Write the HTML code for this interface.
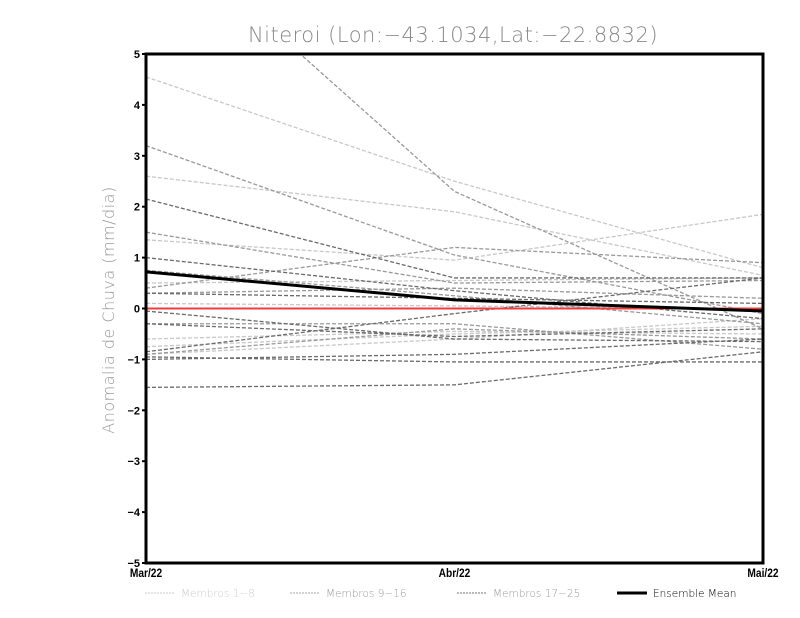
<!DOCTYPE html>
<html><head><meta charset="utf-8"><style>
body{margin:0;background:#fff;width:800px;height:618px;overflow:hidden}
svg{display:block}
</style></head><body>
<svg id="chart" width="800" height="618" xmlns="http://www.w3.org/2000/svg">
<text x="453" y="42" text-anchor="middle" font-family="DejaVu Sans, sans-serif" font-weight="200" font-size="21" letter-spacing="0.5" fill="#888">Niteroi (Lon:−43.1034,Lat:−22.8832)</text>
<text transform="translate(114,310) rotate(-90)" text-anchor="middle" font-family="DejaVu Sans, sans-serif" font-weight="200" font-size="16" letter-spacing="0.5" fill="#999">Anomalia de Chuva (mm/dia)</text>
<g id="plot"></g>
<g id="axes"></g>
<g id="legend"></g>
</svg>
<script>
const categories=["Mar/22","Abr/22","Mai/22"];
const yTicks=[5,4,3,2,1,0,-1,-2,-3,-4,-5];
const membersLight=[[4.55,2.5,0.8],[2.6,1.9,0.65],[1.35,0.95,1.85],[0.5,0.55,0.6],[-0.75,-0.5,-0.35],[-0.9,-0.6,-0.2],[0.1,0.05,0.0],[-0.6,-0.45,-0.5]];
const membersMid=[[7.7,2.3,-0.4],[3.2,1.05,-0.1],[1.5,0.5,0.55],[0.75,0.25,-0.3],[0.4,1.2,0.9],[-0.3,-0.3,-0.8],[-0.9,-0.4,-0.6],[0.3,0.4,0.2]];
const membersDark=[[2.15,0.6,0.6],[-0.05,-0.6,-0.65],[-0.95,-1.05,-1.05],[-1.55,-1.5,-0.85],[0.3,0.2,0.1],[-0.3,-0.55,-0.4],[-0.85,-0.1,0.6],[1.0,0.35,-0.2],[-1.0,-0.9,-0.6]];
const ensembleMean=[0.72,0.17,-0.05];
const legendLabels=["Membros 1-8","Membros 9-16","Membros 17-25","Ensemble Mean"];

const NS="http://www.w3.org/2000/svg";
const X0=146,X1=763,Y0=54,Y1=563;
const xS=i=>X0+(X1-X0)*i/(categories.length-1);
const yS=v=>Y0+(5-v)*(Y1-Y0)/10;
function mk(t,a,p){const e=document.createElementNS(NS,t);for(const k in a)e.setAttribute(k,a[k]);p.appendChild(e);return e;}
const plot=document.getElementById('plot'),axes=document.getElementById('axes'),leg=document.getElementById('legend');
const cp=mk('clipPath',{id:'cp'},plot);mk('rect',{x:X0,y:Y0,width:X1-X0,height:Y1-Y0},cp);
const g=mk('g',{'clip-path':'url(#cp)'},plot);
function pts(a){return a.map((v,i)=>xS(i)+','+yS(v)).join(' ');}
function drawGroup(arr,col,name){arr.forEach((s,k)=>{const l=mk('polyline',{points:pts(s),fill:'none',stroke:col,'stroke-width':1.3,'stroke-dasharray':'4,2'},g);

});}
drawGroup(membersLight,'#c8c8c8','member-light');
drawGroup(membersMid,'#999','member-mid');
drawGroup(membersDark,'#6a6a6a','member-dark');
const z=mk('line',{x1:X0,x2:X1,y1:yS(0),y2:yS(0),stroke:'#f03c3c','stroke-width':2},g);


const m=mk('polyline',{points:pts(ensembleMean),fill:'none',stroke:'#000','stroke-width':3},g);


const fr=mk('rect',{x:X0,y:Y0,width:X1-X0,height:Y1-Y0,fill:'none',stroke:'#000','stroke-width':3},axes);


yTicks.forEach(v=>{mk('line',{x1:X0-4,x2:X0,y1:yS(v),y2:yS(v),stroke:'#000','stroke-width':2},axes);
const t=mk('text',{x:X0-6,y:yS(v)+4,'text-anchor':'end','font-family':'Liberation Sans, sans-serif','font-size':11,'font-weight':'bold'},axes);t.textContent=String(v).replace('-','−');

});
categories.forEach((c,i)=>{const t=mk('text',{x:xS(i)/0.85,y:577,'text-anchor':'middle','font-family':'Liberation Sans, sans-serif','font-size':12,'font-weight':'bold',transform:'scale(0.85,1)'},axes);
t.textContent=c;

});
const lx=[145,290,457,617],lc=['#ccc','#aaa','#777','#000'];
legendLabels.forEach((s,i)=>{mk('line',{x1:lx[i],x2:lx[i]+30,y1:593,y2:593,stroke:lc[i],'stroke-width':i==3?3:1,'stroke-dasharray':i==3?'none':'2,1'},leg);
const t=mk('text',{x:lx[i]+36,y:597,'font-family':'DejaVu Sans, sans-serif','font-size':10.5,'font-weight':'200',fill:i==3?'#000':(i==0?'#ccc':'#999')},leg);t.textContent=s.replace('-','−');

});
</script>
</body></html>
